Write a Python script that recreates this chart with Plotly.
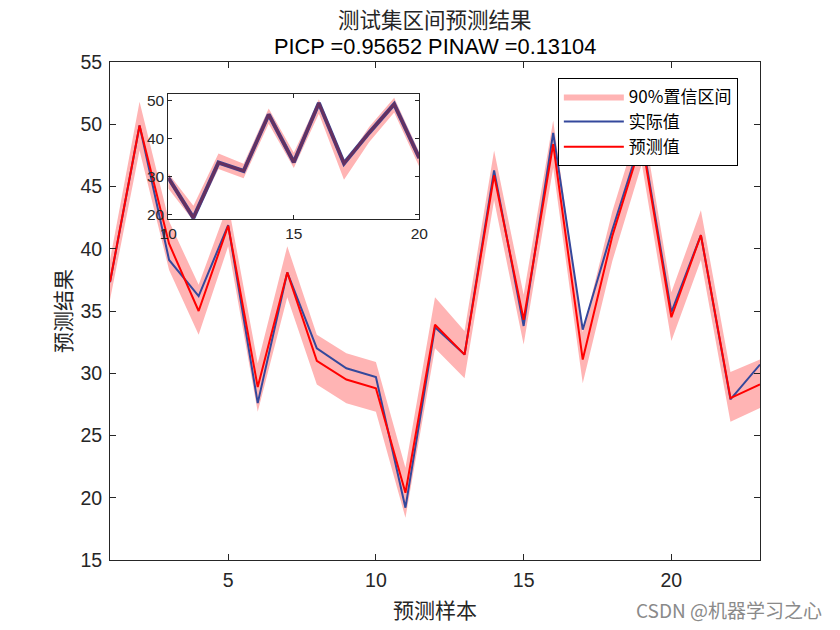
import plotly.graph_objects as go

# ---- data ----
samples = list(range(1, 24))
actual = [37.3, 49.9, 39.1, 36.2, 41.9, 27.6, 38.1, 32.0, 30.4, 29.7, 19.2, 33.7,
          31.5, 46.3, 33.8, 49.3, 33.5, 41.5, 49.0, 34.9, 41.1, 27.9, 30.7]
predicted = [37.35, 49.9, 40.4, 35.0, 41.85, 28.9, 38.1, 31.0, 29.5, 28.8, 20.4, 33.9,
             31.5, 45.9, 34.3, 48.4, 31.1, 41.0, 48.7, 34.5, 41.1, 28.0, 29.1]
lower = [35.9, 47.9, 38.3, 33.1, 40.2, 26.9, 36.1, 29.1, 27.6, 26.9, 18.4, 32.0,
         29.6, 43.9, 32.3, 46.5, 29.2, 39.0, 46.8, 32.6, 39.1, 26.1, 27.2]
upper = [39.1, 51.8, 42.2, 37.1, 43.6, 30.8, 40.2, 33.1, 31.6, 30.9, 22.4, 36.1,
         33.4, 47.9, 36.3, 50.3, 33.3, 43.0, 50.7, 36.5, 43.1, 30.1, 31.1]
main_yticks = [15, 20, 25, 30, 35, 40, 45, 50, 55]
main_xticks = [5, 10, 15, 20]
inset_range = [10, 20]
inset_xticks = [10, 15, 20]
inset_yticks = [20, 30, 40, 50]

title1 = "测试集区间预测结果"
title2 = "PICP =0.95652 PINAW =0.13104"

BAND = "#ffb4b4"
BLUE = "#34489c"
RED = "#ff0000"
AXC = "#262626"
CJK = "Noto Sans CJK SC"
LAT = "Liberation Sans, Arial"

fig = go.Figure()

band_x = samples + samples[::-1]
band_y = upper + lower[::-1]
fig.add_trace(go.Scatter(x=band_x, y=band_y, fill="toself", fillcolor=BAND,
                         line=dict(width=0, color=BAND), mode="lines",
                         name="90%置信区间", hoverinfo="skip"))
fig.add_trace(go.Scatter(x=samples, y=actual, mode="lines",
                         line=dict(color=BLUE, width=2), name="实际值"))
fig.add_trace(go.Scatter(x=samples, y=predicted, mode="lines",
                         line=dict(color=RED, width=2), name="预测值"))

# inset (zoom on samples 10-20)
i0 = inset_range[0] - 1
i1 = inset_range[1]
ix = samples[i0:i1]
fig.add_trace(go.Scatter(x=ix + ix[::-1], y=upper[i0:i1] + lower[i0:i1][::-1],
                         fill="toself", fillcolor=BAND, line=dict(width=0, color=BAND),
                         mode="lines", xaxis="x2", yaxis="y2", showlegend=False))
fig.add_trace(go.Scatter(x=ix, y=actual[i0:i1], mode="lines",
                         line=dict(color="#3a4a9c", width=4), xaxis="x2", yaxis="y2",
                         showlegend=False))
fig.add_trace(go.Scatter(x=ix, y=actual[i0:i1], mode="lines",
                         line=dict(color="#66305f", width=3), xaxis="x2", yaxis="y2",
                         showlegend=False))

axis_common = dict(showgrid=False, zeroline=False, showline=True, linecolor=AXC,
                   linewidth=1, ticks="inside", tickcolor=AXC, mirror="ticks")

fig.update_layout(
    width=840, height=630,
    margin=dict(l=110, r=80, t=62, b=70),
    paper_bgcolor="white", plot_bgcolor="white",
    showlegend=True,
    legend=dict(x=0.689, y=0.968, xanchor="left", yanchor="top",
                bordercolor="black", borderwidth=1, bgcolor="white",
                font=dict(family=CJK, size=17, color="black"),
                itemwidth=60, tracegroupgap=0),
    xaxis=dict(range=[1, 23], tickvals=main_xticks, ticklen=6, ticklabelstandoff=3,
               tickfont=dict(family=LAT, size=19.5, color=AXC), **axis_common),
    yaxis=dict(range=[15, 55], tickvals=main_yticks, ticklen=6, ticklabelstandoff=3,
               tickfont=dict(family=LAT, size=19.5, color=AXC), **axis_common),
    xaxis2=dict(domain=[0.0897, 0.4758], anchor="y2", range=inset_range,
                tickvals=inset_xticks, ticklen=4,
                tickfont=dict(family=LAT, size=15.5, color=AXC), **axis_common),
    yaxis2=dict(domain=[0.6847, 0.9351], anchor="x2", range=[18.9, 51.6],
                tickvals=inset_yticks, ticklen=4,
                tickfont=dict(family=LAT, size=15.5, color=AXC), **axis_common),
    annotations=[
        dict(text=title1, xref="paper", yref="paper", x=0.5, y=1, yshift=44,
             showarrow=False, font=dict(family=CJK, size=21.5, color=AXC),
             xanchor="center", yanchor="middle"),
        dict(text=title2, xref="paper", yref="paper", x=0.5, y=1, yshift=16,
             showarrow=False, font=dict(family=LAT, size=21.8, color="black"),
             xanchor="center", yanchor="middle"),
        dict(text="预测样本", xref="paper", yref="paper", x=0.5, y=0, yshift=-49,
             showarrow=False, font=dict(family=CJK, size=21, color=AXC),
             xanchor="center", yanchor="middle"),
        dict(text="预测结果", xref="paper", yref="paper", x=0, y=0.5, xshift=-48,
             textangle=-90, showarrow=False, font=dict(family=CJK, size=21, color=AXC),
             xanchor="center", yanchor="middle"),
        dict(text="CSDN @机器学习之心", xref="paper", yref="paper", x=1, y=0,
             xshift=64, yshift=-49, showarrow=False,
             font=dict(family=CJK, size=19, color="#8a8a8a"),
             xanchor="right", yanchor="middle"),
    ],
)

fig.write_html("out.html")
